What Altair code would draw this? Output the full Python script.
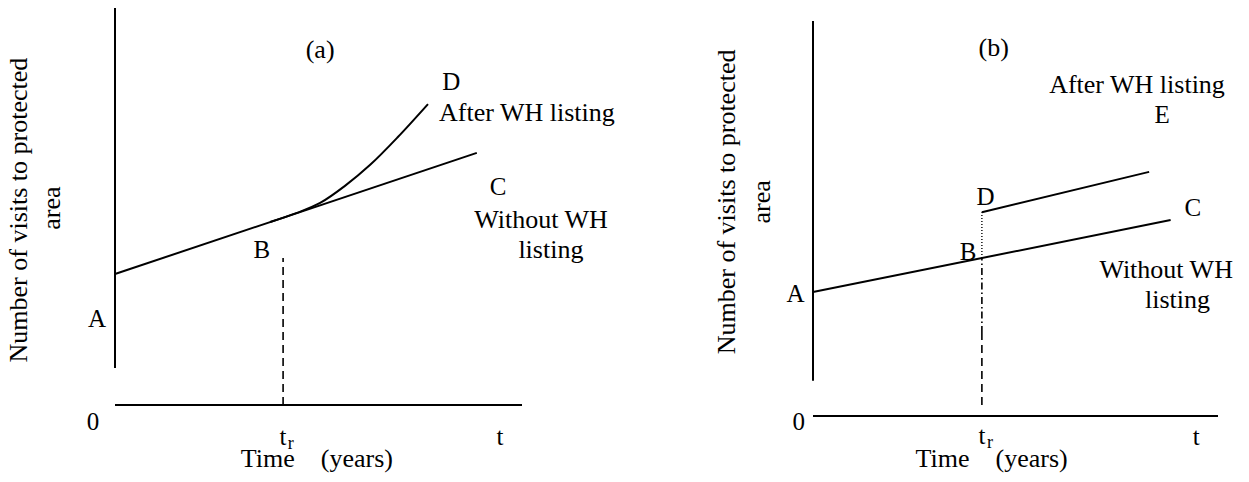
import altair as alt
import pandas as pd

FONT = "Liberation Serif"
NB = "\u00a0"

# ---------------- Panel (a) ----------------
A_YAXIS = [0.0, 0.93, 10.0]          # x, y-start, y-end
A_XAXIS = [0.0, 0.0, 10.0]           # y, x-start, x-end
A_BASE_X = [0.0, 8.89]               # without WH listing (A -> C)
A_BASE_Y = [3.30, 6.35]
A_CURVE_X = [3.81, 4.47, 5.04, 5.65, 6.27, 6.95, 7.69]   # after WH listing (-> D)
A_CURVE_Y = [4.61, 4.84, 5.09, 5.52, 6.05, 6.75, 7.58]
A_TR = [4.13, 0.0, 3.70]             # t_r, dashed from .. to

A_LBL_TEXT = ["(a)", "D", "After WH listing", "C", "Without WH", "listing", "B", "A", "0",
              "t", "r", "t", "Time" + NB * 4 + "(years)",
              "Number of visits to protected", "area"]
A_LBL_X = [5.04, 8.26, 10.12, 9.41, 10.47, 10.71, 3.61, -0.44, -0.54,
           4.13, 4.32, 9.46, 4.96, -2.16, -1.35]
A_LBL_Y = [8.74, 7.93, 7.15, 5.29, 4.46, 3.70, 3.70, 1.96, -0.63,
           -1.01, -1.11, -1.01, -1.56, 4.91, 4.96]
A_LBL_SIZE = [26, 25, 26, 25, 26, 26, 25, 25, 25, 25, 18, 25, 26, 26, 26]
A_LBL_ANGLE = [0] * 13 + [270, 270]

# ---------------- Panel (b) ----------------
B_YAXIS = [0.0, 0.89, 10.0]
B_XAXIS = [0.0, 0.0, 10.0]
B_BASE_X = [0.0, 8.83]               # A -> C
B_BASE_Y = [3.14, 4.96]
B_JUMP_X = [4.17, 8.30]              # D -> E
B_JUMP_Y = [5.16, 6.18]
B_TR = 4.17
B_DOTTED = [4.00, 5.16]
B_DASHDOT = [2.10, 4.00]
B_DASHED = [0.28, 2.10]

B_LBL_TEXT = ["(b)", "After WH listing", "E", "D", "C", "B", "A", "Without WH", "listing", "0",
              "t", "r", "t", "Time" + NB * 4 + "(years)",
              "Number of visits to protected", "area"]
B_LBL_X = [4.46, 8.00, 8.62, 4.26, 9.38, 3.83, -0.43, 8.72, 9.00, -0.35,
           4.17, 4.37, 9.46, 4.41, -1.93, -1.07]
B_LBL_Y = [9.11, 8.18, 7.42, 5.34, 5.06, 3.95, 2.89, 3.49, 2.73, -0.35,
           -0.71, -0.81, -0.73, -1.29, 5.42, 5.42]
B_LBL_SIZE = [26, 26, 25, 25, 25, 25, 25, 26, 26, 25, 25, 18, 25, 26, 26, 26]
B_LBL_ANGLE = [0] * 14 + [270, 270]


def panel(xs, ys, rules, lines, labels):
    X = lambda f: alt.X(f, type="quantitative", scale=xs, axis=None)
    Y = lambda f: alt.Y(f, type="quantitative", scale=ys, axis=None)
    layers = []
    for df, dash, width in rules:
        kw = dict(color="black", strokeWidth=width)
        if dash:
            kw["strokeDash"] = dash
        layers.append(
            alt.Chart(df).mark_rule(**kw).encode(
                x=X("x"), y=Y("y"), x2=alt.X2("x2"), y2=alt.Y2("y2")
            )
        )
    for df, interp in lines:
        layers.append(
            alt.Chart(df).mark_line(color="black", strokeWidth=2, interpolate=interp).encode(
                x=X("x"), y=Y("y"), order=alt.Order("i:Q")
            )
        )
    layers.append(
        alt.Chart(labels).mark_text(font=FONT, color="black", align="center",
                                    baseline="alphabetic").encode(
            x=X("x"), y=Y("y"), text="text:N",
            size=alt.Size("size:Q", scale=None, legend=None),
            angle=alt.Angle("angle:Q", scale=None),
        )
    )
    return alt.layer(*layers)


def seg(x, y, x2, y2):
    return pd.DataFrame({"x": [x], "y": [y], "x2": [x2], "y2": [y2]})


def poly(xs, ys):
    return pd.DataFrame({"x": xs, "y": ys, "i": list(range(len(xs)))})


# scales (data units -> drawing positions)
xa = alt.Scale(domain=[0, 10], range=[107, 514], nice=False, zero=False)
ya = alt.Scale(domain=[0, 10], range=[397, 0], nice=False, zero=False)
xb = alt.Scale(domain=[0, 10], range=[805, 1210], nice=False, zero=False)
yb = alt.Scale(domain=[0, 10], range=[408, 13], nice=False, zero=False)

lab_a = pd.DataFrame({"text": A_LBL_TEXT, "x": A_LBL_X, "y": A_LBL_Y,
                      "size": A_LBL_SIZE, "angle": A_LBL_ANGLE})
lab_b = pd.DataFrame({"text": B_LBL_TEXT, "x": B_LBL_X, "y": B_LBL_Y,
                      "size": B_LBL_SIZE, "angle": B_LBL_ANGLE})

panel_a = panel(
    xa, ya,
    rules=[
        (seg(A_YAXIS[0], A_YAXIS[1], A_YAXIS[0], A_YAXIS[2]), None, 2),
        (seg(A_XAXIS[1], A_XAXIS[0], A_XAXIS[2], A_XAXIS[0]), None, 2),
        (seg(A_TR[0], A_TR[1], A_TR[0], A_TR[2]), [8, 5], 1.6),
    ],
    lines=[
        (poly(A_BASE_X, A_BASE_Y), "linear"),
        (poly(A_CURVE_X, A_CURVE_Y), "monotone"),
    ],
    labels=lab_a,
)

panel_b = panel(
    xb, yb,
    rules=[
        (seg(B_YAXIS[0], B_YAXIS[1], B_YAXIS[0], B_YAXIS[2]), None, 2),
        (seg(B_XAXIS[1], B_XAXIS[0], B_XAXIS[2], B_XAXIS[0]), None, 2),
        (seg(B_TR, B_DOTTED[0], B_TR, B_DOTTED[1]), [1, 2], 1.4),
        (seg(B_TR, B_DASHDOT[0], B_TR, B_DASHDOT[1]), [7, 3, 1.5, 3], 1.6),
        (seg(B_TR, B_DASHED[0], B_TR, B_DASHED[1]), [8, 5], 1.6),
    ],
    lines=[
        (poly(B_BASE_X, B_BASE_Y), "linear"),
        (poly(B_JUMP_X, B_JUMP_Y), "linear"),
    ],
    labels=lab_b,
)

chart = (
    alt.layer(panel_a, panel_b)
    .resolve_scale(x="independent", y="independent")
    .properties(width=1233, height=466, padding=0,
                autosize=alt.AutoSizeParams(type="none"))
    .configure_view(stroke=None)
)

chart.save("out.html", embed_options={"renderer": "svg", "actions": False})
